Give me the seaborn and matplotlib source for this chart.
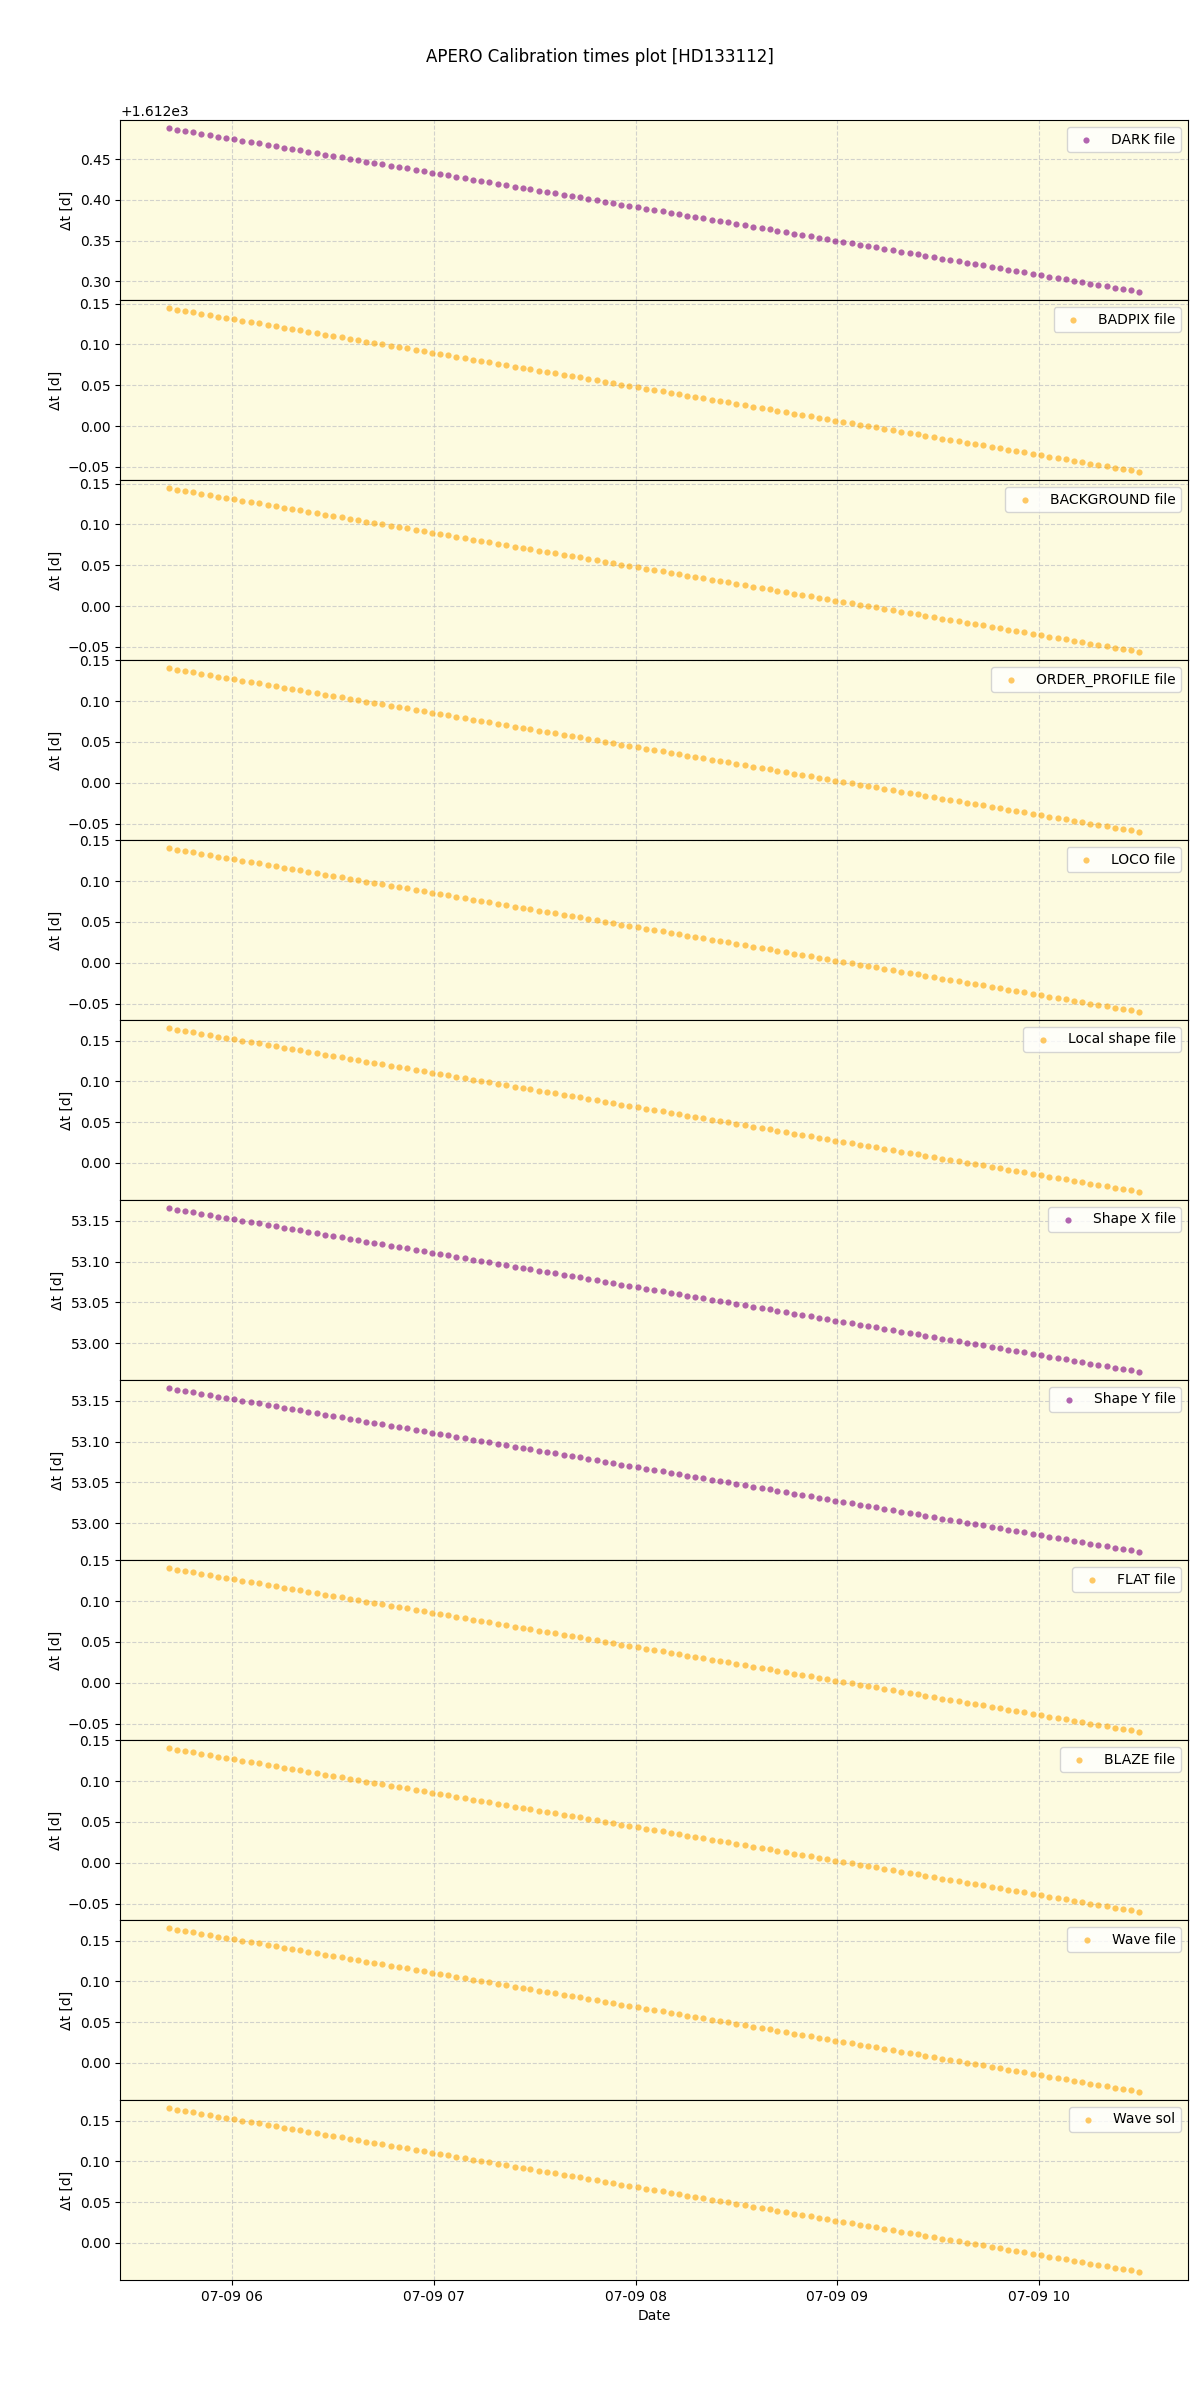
import numpy as np
import pandas as pd
import matplotlib
matplotlib.use("Agg")
import matplotlib.pyplot as plt
import matplotlib.dates as mdates
import seaborn as sns

# Observation times: minutes after 2023-07-09 05:41:00
obs_minutes = [
    0.0, 2.4, 4.9, 7.3, 9.8, 12.2, 14.8, 17.2, 19.6, 22.0,
    24.5, 26.9, 29.5, 31.9, 34.3, 36.8, 39.2, 41.6, 44.2, 46.6,
    49.0, 51.5, 53.9, 56.3, 58.9, 61.3, 63.6, 66.1, 68.6, 71.0,
    73.6, 76.0, 78.3, 80.8, 83.3, 85.7, 88.3, 90.7, 93.0, 95.5,
    98.0, 100.4, 103.0, 105.4, 107.7, 110.2, 112.7, 115.1, 117.7, 120.1,
    122.4, 124.9, 127.4, 129.8, 132.4, 134.8, 137.1, 139.6, 142.1, 144.5,
    147.1, 149.5, 151.8, 154.3, 156.8, 159.2, 161.8, 164.2, 166.5, 169.0,
    171.5, 173.9, 176.5, 178.9, 181.2, 183.7, 186.2, 188.6, 191.2, 193.6,
    195.9, 198.4, 200.9, 203.3, 205.9, 208.3, 210.6, 213.1, 215.6, 218.0,
    220.6, 223.0, 225.3, 227.8, 230.3, 232.7, 235.3, 237.7, 240.0, 242.5,
    245.0, 247.4, 250.0, 252.4, 254.7, 257.2, 259.7, 262.1, 264.7, 267.1,
    269.4, 271.9, 274.4, 276.8, 279.4, 281.8, 284.1, 286.6, 289.0,
]

panel_labels = ['DARK file', 'BADPIX file', 'BACKGROUND file', 'ORDER_PROFILE file',
                'LOCO file', 'Local shape file', 'Shape X file', 'Shape Y file',
                'FLAT file', 'BLAZE file', 'Wave file', 'Wave sol']
# calibration epoch relative to first observation [d] (Δt at first point)
calib_offset_days = [1612.488, 0.1445, 0.1445, 0.1405, 0.1405, 0.1652,
                     53.1655, 53.1655, 0.1405, 0.1405, 0.1652, 0.1652]
panel_kind = ['purple', 'orange', 'orange', 'orange', 'orange', 'orange',
              'purple', 'purple', 'orange', 'orange', 'orange', 'orange']

t0 = pd.Timestamp('2023-07-09 05:41:00')
obs_time = t0 + pd.to_timedelta(obs_minutes, unit='m')
elapsed_days = np.array(obs_minutes) / 1440.0

fig, axes = plt.subplots(len(panel_labels), 1, figsize=(12, 24), dpi=100, sharex=True)
fig.subplots_adjust(left=0.1, right=0.99, top=0.95, bottom=0.05, hspace=0)

for ax, lab, off, kind in zip(axes, panel_labels, calib_offset_days, panel_kind):
    df = pd.DataFrame({'time': obs_time, 'dt': off - elapsed_days})
    ax.set_facecolor('#fdfbe0')
    sns.scatterplot(data=df, x='time', y='dt', ax=ax, color=kind, alpha=0.6,
                    s=20, linewidth=0, label=lab, zorder=3)
    ax.grid(True, linestyle='--', color='#c8c8c8', alpha=0.8, zorder=0)
    ax.set_axisbelow(True)
    ax.set_ylabel('Δt [d]')
    ax.set_xlabel('')
    ax.legend(loc='upper right')

axes[-1].xaxis.set_major_locator(mdates.HourLocator())
axes[-1].xaxis.set_major_formatter(mdates.DateFormatter('%m-%d %H'))
axes[-1].set_xlabel('Date')
fig.suptitle('APERO Calibration times plot [HD133112]')
fig.savefig('out.png', dpi=100)
